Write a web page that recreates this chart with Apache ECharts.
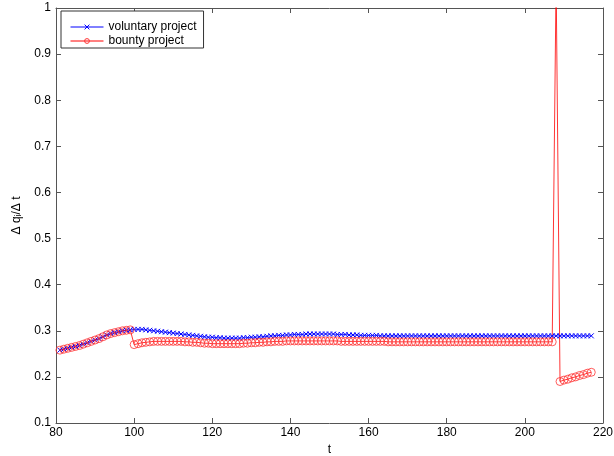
<!DOCTYPE html>
<html lang="en">
<head>
    <meta charset="UTF-8">
    <title>voluntary vs bounty</title>
    <script src="https://cdn.jsdelivr.net/npm/echarts@6/dist/echarts.min.js"></script>
    <style>
        html,body{margin:0;padding:0;background:#fff;}
        #chart{width:614px;height:456px;}
    </style>
</head>
<body>
<div id="chart"></div>
<script>
    // t starts at 81, one sample per step
    var tStart = 81;
    var xTicks = [80, 220, 20];
    var yTicks = [0.1, 1, 0.1];

    var voluntary = [
        0.258,0.260,0.262,0.264,0.266,0.268,0.271,0.274,0.277,0.280,
        0.283,0.287,0.291,0.294,0.296,0.298,0.300,0.301,0.302,
        0.303,0.303,0.303,0.302,0.301,0.300,0.299,0.298,0.297,0.296,
        0.295,0.294,0.293,0.292,0.291,0.290,0.289,0.288,0.287,0.286,
        0.286,0.285,0.285,0.284,0.284,0.284,0.284,0.284,0.285,0.285,
        0.286,0.286,0.287,0.287,0.288,0.289,0.289,0.290,0.290,0.291,
        0.291,0.292,0.292,0.292,0.293,0.293,0.293,0.293,0.293,0.293,
        0.293,0.293,0.292,0.292,0.292,0.291,0.291,0.291,0.290,0.290,
        0.290,0.290,0.290,0.289,0.289,0.289,0.289,0.289,0.289,0.289,
        0.289,0.289,0.289,0.289,0.289,0.289,0.289,0.289,0.289,0.289,
        0.289,0.289,0.289,0.289,0.289,0.289,0.289,0.289,0.289,0.289,
        0.289,0.289,0.289,0.289,0.289,0.289,0.289,0.289,0.289,0.289,
        0.289,0.289,0.289,0.289,0.289,0.289,0.289,0.289,0.289,0.289,
        0.289,0.289,0.289,0.289,0.289,0.289,0.289,0.289
    ];
    var bounty = [
        0.258,0.260,0.262,0.264,0.266,0.268,0.271,0.274,0.277,0.280,
        0.283,0.287,0.291,0.294,0.296,0.298,0.300,0.301,0.302,
        0.270,0.272,0.274,0.275,0.276,0.277,0.277,0.277,0.277,0.277,
        0.277,0.277,0.277,0.276,0.276,0.275,0.275,0.274,0.273,0.273,
        0.272,0.272,0.272,0.272,0.272,0.272,0.272,0.272,0.273,0.273,
        0.274,0.274,0.275,0.275,0.276,0.276,0.277,0.277,0.277,0.278,
        0.278,0.278,0.278,0.278,0.278,0.278,0.278,0.278,0.278,0.278,
        0.278,0.278,0.278,0.277,0.277,0.277,0.277,0.277,0.277,0.277,
        0.277,0.277,0.277,0.277,0.277,0.276,0.276,0.276,0.276,0.276,
        0.276,0.276,0.276,0.276,0.276,0.276,0.276,0.276,0.276,0.276,
        0.276,0.276,0.276,0.276,0.276,0.276,0.276,0.276,0.276,0.276,
        0.276,0.276,0.276,0.276,0.276,0.276,0.276,0.276,0.276,0.276,
        0.276,0.276,0.276,0.276,0.276,0.276,0.276,0.276,1.060,0.190,
        0.193,0.195,0.198,0.200,0.203,0.205,0.208,0.210
    ];

    function pairs(arr) {
        var out = [];
        for (var i = 0; i < arr.length; i++) {
            out.push([tStart + i, arr[i]]);
        }
        return out;
    }

    var axisColor = '#555';
    var font = 'Liberation Sans, Arial, Helvetica, sans-serif';

    function xAxis(pos, labels) {
        return {
            type: 'value', position: pos,
            min: xTicks[0], max: xTicks[1], interval: xTicks[2],
            axisLine: {show: true, onZero: false, lineStyle: {color: axisColor, width: 1}},
            axisTick: {show: true, inside: true, length: 5, lineStyle: {color: axisColor}},
            axisLabel: {show: labels, color: '#000', fontSize: 12, fontFamily: font, margin: 4},
            splitLine: {show: false},
            name: labels ? 't' : '',
            nameLocation: 'middle', nameGap: 18,
            nameTextStyle: {color: '#000', fontSize: 12, fontFamily: font}
        };
    }
    function yAxis(pos, labels) {
        return {
            type: 'value', position: pos,
            min: yTicks[0], max: yTicks[1], interval: yTicks[2],
            axisLine: {show: true, onZero: false, lineStyle: {color: axisColor, width: 1}},
            axisTick: {show: true, inside: true, length: 5, lineStyle: {color: axisColor}},
            axisLabel: {
                show: labels, color: '#000', fontSize: 12, fontFamily: font, margin: 5,
                formatter: function (v) { return String(Math.round(v * 10) / 10); }
            },
            splitLine: {show: false},
            name: labels ? 'Δ qᵢ/Δ t' : '',
            nameLocation: 'middle', nameGap: 33, nameRotate: 90,
            nameTextStyle: {color: '#000', fontSize: 12, fontFamily: font}
        };
    }

    var chart = echarts.init(document.getElementById('chart'));
    chart.setOption({
        animation: false,
        backgroundColor: '#fff',
        grid: {left: 56, right: 11, top: 8, bottom: 33, outerBoundsMode: 'none'},
        legend: {
            orient: 'vertical', left: 61, top: 11,
            padding: [10, 7, 1, 9],
            itemWidth: 33, itemHeight: 6, itemGap: 2,
            borderColor: '#333', borderWidth: 1, backgroundColor: '#fff',
            lineStyle: {width: 1},
            itemStyle: {borderWidth: 1},
            textStyle: {color: '#000', fontSize: 12, fontFamily: font},
            data: ['voluntary project', 'bounty project']
        },
        xAxis: [xAxis('bottom', true), xAxis('top', false)],
        yAxis: [yAxis('left', true), yAxis('right', false)],
        series: [
            {
                name: 'voluntary project', type: 'line',
                data: pairs(voluntary),
                symbol: 'path://M0,0L10,10M10,0L0,10', symbolSize: 5,
                showSymbol: true, showAllSymbol: true,
                lineStyle: {color: '#0000ff', width: 0.8},
                itemStyle: {color: 'rgba(0,0,0,0)', borderColor: '#0000ff', borderWidth: 1}
            },
            {
                name: 'bounty project', type: 'line',
                data: pairs(bounty),
                symbol: 'circle', symbolSize: 8,
                showSymbol: true, showAllSymbol: true,
                lineStyle: {color: '#ff0000', width: 0.8},
                itemStyle: {color: 'rgba(0,0,0,0)', borderColor: '#ff3333', borderWidth: 0.8}
            }
        ]
    });
</script>
</body>
</html>
